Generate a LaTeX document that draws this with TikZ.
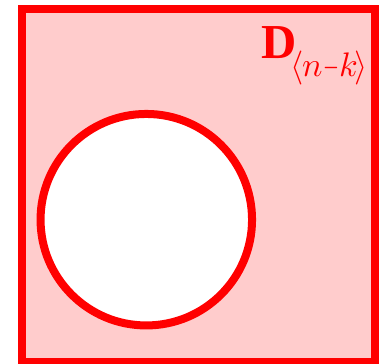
\documentclass[tikz,border=0pt]{standalone}
\usepackage{amsmath}
\usepackage{fontspec}
\newfontfamily\dfont{Liberation Serif}
\tikzset{
  frame/.style={draw=red, line width=8pt, fill=red!20},
  hole/.style={draw=red, line width=8pt, fill=white, circle, minimum size=211.5pt, inner sep=0pt},
  lbl/.style={text=red, inner sep=0pt, anchor=base west}
}
\begin{document}
\begin{tikzpicture}[x=1pt,y=-1pt]
\useasboundingbox (0,0) rectangle (384,364);
\node[frame, minimum width=352.7pt, minimum height=352.7pt, inner sep=0pt, anchor=center] (box) at (198.35,185.65) {};
\node[hole] (c) at (146.3,219.7) {};
\node[lbl] (d) at (261,58.3) {{\dfont\bfseries\fontsize{48.8}{50}\selectfont D}\kern-5.6pt\raisebox{-18.7pt}{\scalebox{3.4}{$\langle\kern-0.54pt n\kern0.14pt\scalebox{0.6}[1]{$-$}\kern0.07pt k\kern-0.99pt\rangle$}}};
\end{tikzpicture}
\end{document}
